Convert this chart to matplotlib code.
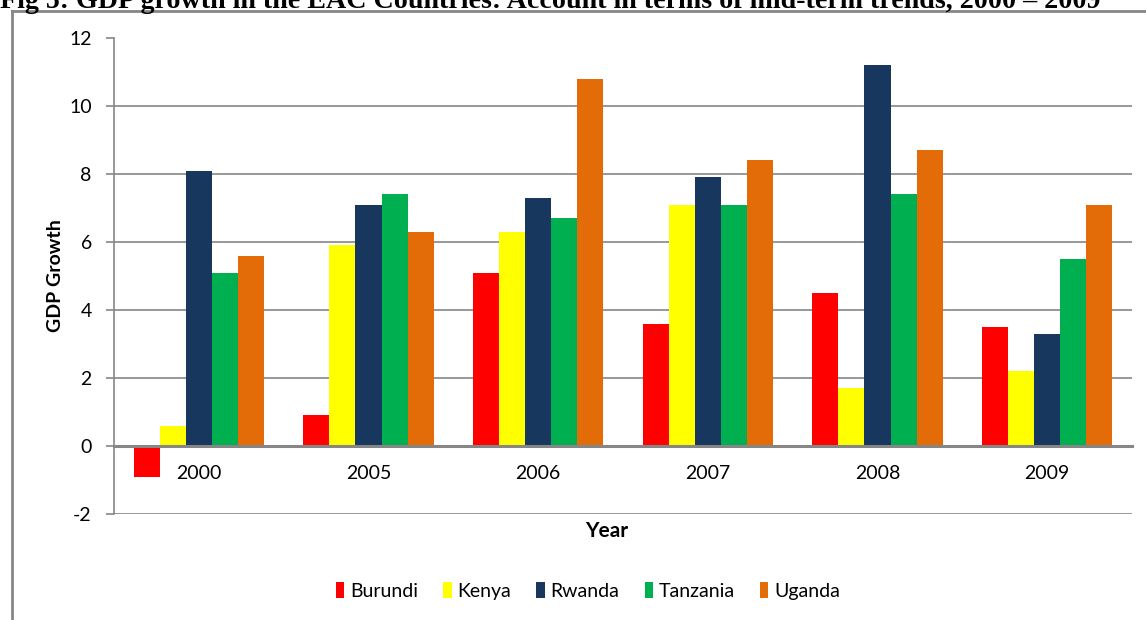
import numpy as np
import matplotlib
matplotlib.use('Agg')
import matplotlib.pyplot as plt
from matplotlib.lines import Line2D

years = ['2000', '2005', '2006', '2007', '2008', '2009']
countries = ['Burundi', 'Kenya', 'Rwanda', 'Tanzania', 'Uganda']
burundi = [-0.9, 0.9, 5.1, 3.6, 4.5, 3.5]
kenya = [0.6, 5.9, 6.3, 7.1, 1.7, 2.2]
rwanda = [8.1, 7.1, 7.3, 7.9, 11.2, 3.3]
tanzania = [5.1, 7.4, 6.7, 7.1, 7.4, 5.5]
uganda = [5.6, 6.3, 10.8, 8.4, 8.7, 7.1]
colors = ['#FF0000', '#FFFF00', '#17375E', '#00B050', '#E36C09']

plt.rcParams['font.family'] = ['Lato', 'DejaVu Sans']

fig = plt.figure(figsize=(11.46, 6.2), dpi=100)
ax = fig.add_axes([114/1146, 1 - 514/620, (1132 - 114)/1146, (514 - 38)/620])

x = np.arange(len(years))
w = 1/6.5
series = [burundi, kenya, rwanda, tanzania, uganda]
for i, (name, vals) in enumerate(zip(countries, series)):
    ax.bar(x + (i - 2)*w, vals, w, color=colors[i], label=name, zorder=3)

gray = '#868686'
ax.spines['bottom'].set_position(('data', 0))
ax.set_xlim(-0.5, len(years) - 0.5)
ax.set_ylim(-2, 12)
ax.set_yticks(np.arange(-2, 13, 2))
ax.set_yticklabels([str(v) for v in range(-2, 13, 2)])
ax.set_xticks(x)
ax.set_xticklabels(years)

ax.yaxis.grid(True, color=gray, linewidth=1.2, zorder=0)
ax.get_ygridlines()[-1].set_visible(False)
for s in ['top', 'right']:
    ax.spines[s].set_visible(False)
ax.spines['left'].set_color(gray)
ax.spines['left'].set_linewidth(1.2)
ax.spines['bottom'].set_color(gray)
ax.spines['bottom'].set_linewidth(2.2)
ax.spines['bottom'].set_zorder(4)
ax.tick_params(axis='y', length=6, color=gray, width=1.2, pad=10, labelsize=14)
ax.tick_params(axis='x', length=0, pad=14, labelsize=14)

ax.set_ylabel('GDP Growth', fontsize=14, fontweight='bold', labelpad=4)
fig.text(607/1146, 1 - 531/620, 'Year', fontsize=15, fontweight='bold',
         ha='center', va='center')

fig.legend(loc='center', bbox_to_anchor=(588/1146, 1 - 591/620), ncol=5,
           frameon=False, fontsize=14, handlelength=0.42, handleheight=0.85,
           handletextpad=0.3, columnspacing=1.3)

# chart area border and clipped caption
fig.add_artist(Line2D([12/1146, 12/1146], [0, 1 - 11/620], color=gray,
                      linewidth=2, transform=fig.transFigure))
fig.add_artist(Line2D([12/1146, 1], [1 - 11/620, 1 - 11/620], color=gray,
                      linewidth=2, transform=fig.transFigure))
fig.text(0, 1 - 8/620,
         'Fig 5: GDP growth in the EAC Countries: Account in terms of mid-term trends, 2000 \u2013 2009',
         fontsize=20.2, fontweight='bold', family=['Liberation Serif', 'DejaVu Serif'],
         ha='left', va='baseline')

fig.savefig('out.png', dpi=100)
